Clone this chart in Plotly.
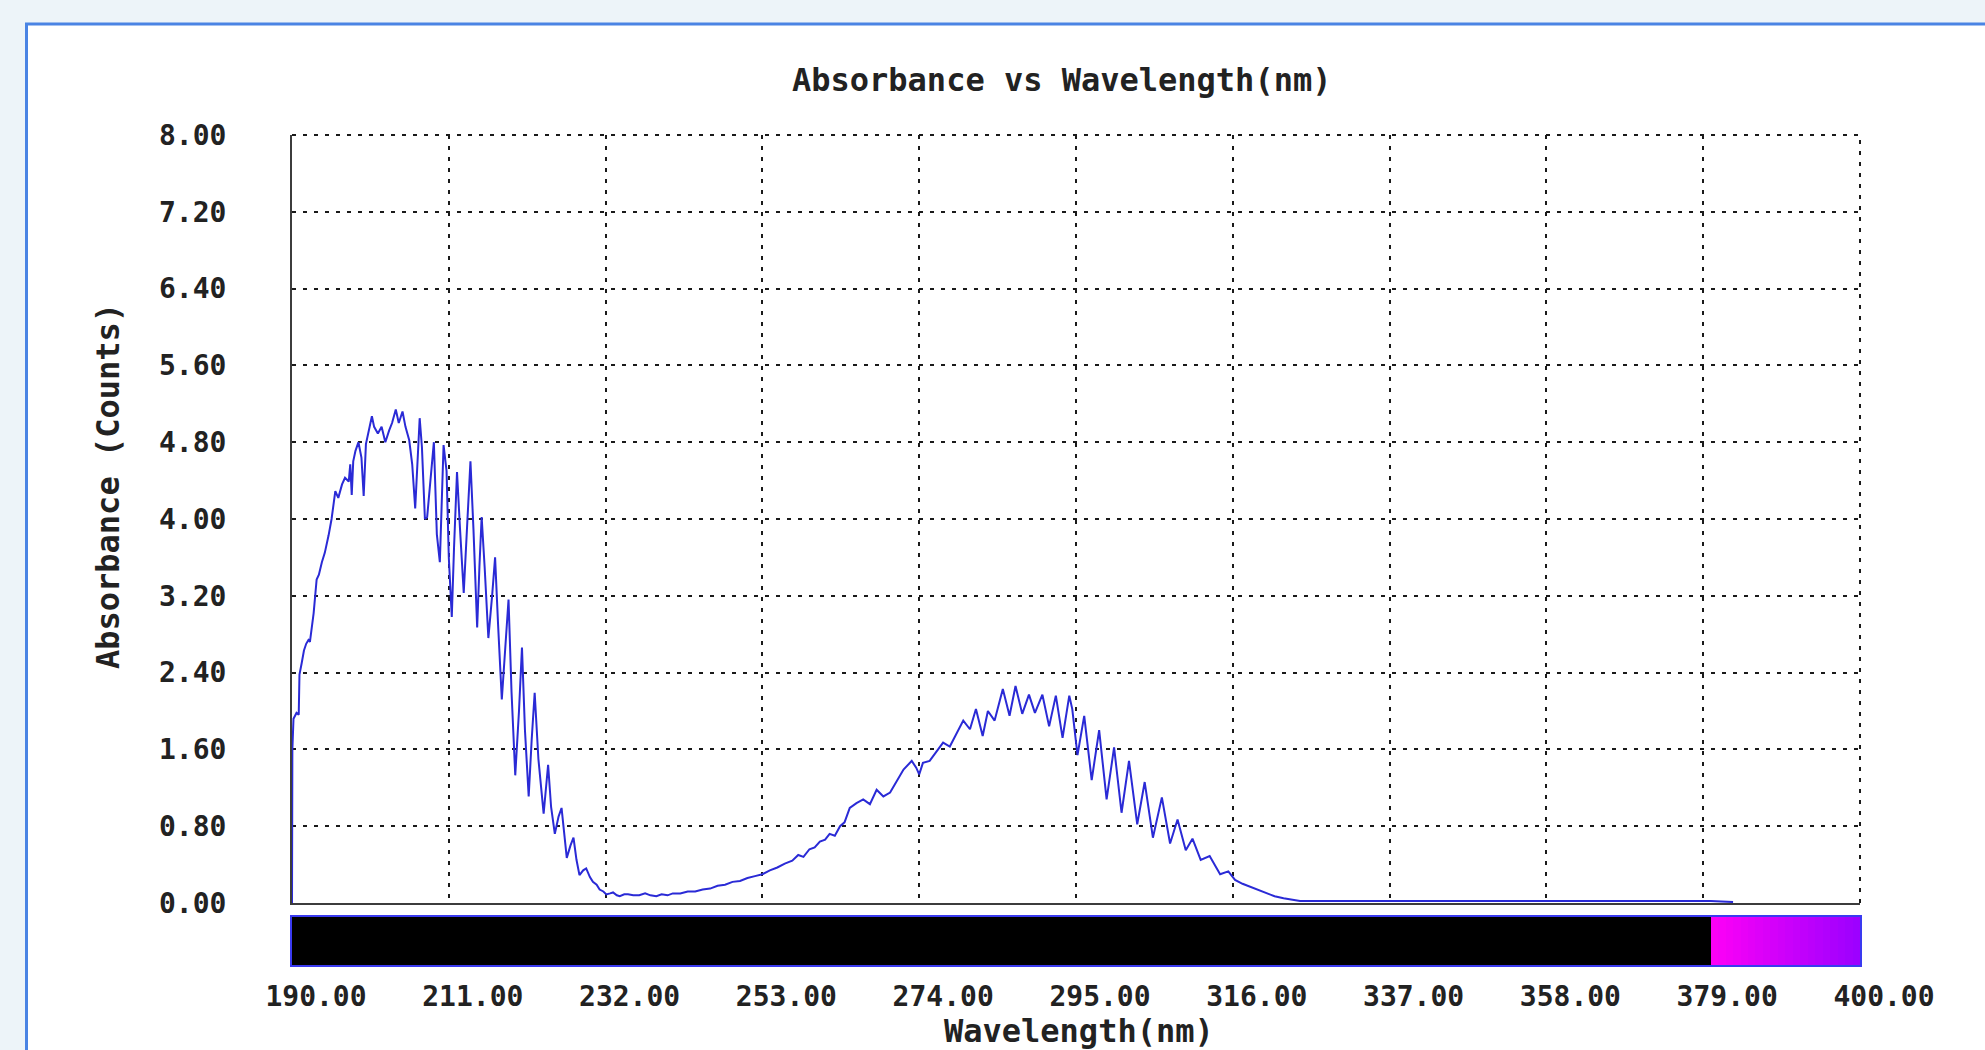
import plotly.graph_objects as go

# ---------------- data ----------------
wavelength = [
    190.0, 190.05, 190.2, 190.6, 190.9, 191.0, 191.3, 191.6, 191.9, 192.2, 192.4, 192.6, 192.9,
    193.3, 193.6, 194.0, 194.4, 194.9, 195.3, 195.8, 196.2, 196.7, 197.1, 197.6, 197.8, 198.0,
    198.2, 198.5, 198.9, 199.3, 199.6, 199.9, 200.2, 200.7, 201.0, 201.5, 202.0, 202.5, 203.0,
    203.4, 203.9, 204.3, 204.8, 205.2, 205.7, 206.1, 206.5, 206.8, 207.1, 207.4, 207.8, 208.1,
    208.6, 209.0, 209.4, 209.8, 210.3, 210.7, 211.0, 211.4, 211.7, 212.1, 212.5, 213.0, 213.5,
    213.9, 214.3, 214.8, 215.1, 215.4, 215.8, 216.3, 216.8, 217.2, 217.6, 218.1, 218.6, 219.0,
    219.4, 219.9, 220.4, 220.8, 221.2, 221.7, 222.1, 222.5, 223.0, 223.7, 224.3, 224.7, 225.2,
    225.7, 226.1, 226.5, 226.8, 227.3, 227.7, 228.1, 228.5, 229.0, 229.4, 229.9, 230.3, 230.8,
    231.2, 231.7, 232.1, 232.6, 233.0, 233.5, 233.9, 234.5, 235.0, 235.7, 236.5, 237.3, 238.0,
    238.8, 239.5, 240.3, 241.0, 242.0, 243.0, 244.0, 245.0, 246.0, 247.0, 248.0, 249.0, 250.0,
    251.0, 252.0, 253.0, 254.0, 255.0, 256.0, 257.0, 257.8, 258.5, 259.3, 260.0, 260.7, 261.4,
    262.0, 262.7, 263.4, 264.0, 264.7, 265.6, 266.5, 267.4, 268.3, 269.2, 270.1, 271.0, 271.9,
    273.0, 273.6, 274.0, 274.5, 275.4, 276.3, 277.2, 278.1, 279.0, 279.9, 280.8, 281.6, 282.5,
    283.2, 284.1, 285.2, 286.1, 286.9, 287.8, 288.7, 289.5, 290.5, 291.4, 292.3, 293.2, 294.1,
    294.5, 295.2, 296.1, 297.1, 298.1, 299.1, 300.1, 301.1, 302.1, 303.2, 304.2, 305.3, 306.5,
    307.6, 308.6, 309.7, 310.6, 311.7, 312.9, 314.3, 315.4, 316.3, 317.3, 318.3, 319.4, 320.5,
    321.6, 322.8, 324.0, 325.0, 330.0, 340.0, 350.0, 360.0, 370.0, 380.0, 383.0,
]
absorbance = [
    0.00, 1.60, 1.92, 1.98, 1.96, 2.38, 2.50, 2.63, 2.70, 2.74, 2.72, 2.82, 3.02,
    3.37, 3.42, 3.55, 3.65, 3.83, 4.00, 4.29, 4.22, 4.36, 4.43, 4.39, 4.57, 4.25,
    4.60, 4.71, 4.80, 4.64, 4.24, 4.78, 4.89, 5.07, 4.96, 4.89, 4.96, 4.80, 4.92,
    5.00, 5.14, 5.00, 5.12, 4.96, 4.82, 4.57, 4.11, 4.64, 5.05, 4.75, 4.00, 4.02,
    4.50, 4.80, 3.84, 3.55, 4.77, 4.50, 3.60, 2.98, 3.70, 4.49, 3.90, 3.23, 4.00,
    4.60, 3.90, 2.87, 3.50, 4.02, 3.50, 2.76, 3.20, 3.60, 2.90, 2.12, 2.70, 3.16,
    2.20, 1.33, 2.00, 2.66, 1.80, 1.11, 1.70, 2.19, 1.50, 0.93, 1.44, 1.00, 0.72,
    0.90, 0.99, 0.70, 0.47, 0.60, 0.68, 0.45, 0.29, 0.34, 0.36, 0.27, 0.22, 0.19,
    0.14, 0.12, 0.09, 0.10, 0.11, 0.08, 0.07, 0.09, 0.09, 0.08, 0.08, 0.10, 0.08,
    0.07, 0.09, 0.08, 0.10, 0.10, 0.12, 0.12, 0.14, 0.15, 0.18, 0.19, 0.22, 0.23,
    0.26, 0.28, 0.30, 0.34, 0.37, 0.41, 0.44, 0.50, 0.48, 0.56, 0.58, 0.64, 0.66,
    0.72, 0.70, 0.80, 0.84, 0.99, 1.04, 1.08, 1.03, 1.18, 1.11, 1.15, 1.27, 1.39,
    1.48, 1.41, 1.34, 1.46, 1.48, 1.57, 1.67, 1.63, 1.77, 1.90, 1.81, 2.02, 1.74,
    2.00, 1.90, 2.23, 1.95, 2.26, 1.97, 2.17, 1.98, 2.17, 1.84, 2.16, 1.72, 2.16,
    2.02, 1.54, 1.95, 1.28, 1.80, 1.08, 1.62, 0.94, 1.48, 0.82, 1.26, 0.68, 1.10,
    0.62, 0.87, 0.55, 0.67, 0.45, 0.49, 0.30, 0.33, 0.24, 0.20, 0.17, 0.13, 0.10,
    0.07, 0.05, 0.03, 0.02, 0.02, 0.02, 0.02, 0.02, 0.02, 0.02, 0.01,
]

x_ticks = [190, 211, 232, 253, 274, 295, 316, 337, 358, 379, 400]
y_ticks = [0.0, 0.8, 1.6, 2.4, 3.2, 4.0, 4.8, 5.6, 6.4, 7.2, 8.0]

# spectrum colour bar: UV part (black) then visible violet band from 380 nm
bar_edges = [190, 380, 381, 382, 383, 384, 385, 386, 387, 388, 389, 390,
             391, 392, 393, 394, 395, 396, 397, 398, 399, 400]
bar_values = [285, 380.5, 381.5, 382.5, 383.5, 384.5, 385.5, 386.5, 387.5, 388.5, 389.5,
              390.5, 391.5, 392.5, 393.5, 394.5, 395.5, 396.5, 397.5, 398.5, 399.5]
visible_start = 380

title_text = "Absorbance vs Wavelength(nm)"
x_title = "Wavelength(nm)"
y_title = "Absorbance (Counts)"

# ---------------- figure ----------------
FONT = "DejaVu Sans Mono"
W, H = 1985, 1050
L, R, T, B = 292, 125, 135, 85
plot_w = W - L - R
plot_h = H - T - B

def px_x(px):
    return (px - L) / plot_w

def px_y(py):
    return (H - B - py) / plot_h

main_bottom = px_y(903)
bar_top = px_y(917)

fig = go.Figure()

fig.add_trace(go.Scatter(
    x=wavelength, y=absorbance, mode="lines",
    line=dict(color="#2a2ad6", width=2),
    xaxis="x", yaxis="y", showlegend=False, hoverinfo="x+y",
))

frac = (visible_start - x_ticks[0]) / (x_ticks[-1] - x_ticks[0])
fig.add_trace(go.Heatmap(
    x=bar_edges, y=[0, 1], z=[bar_values],
    zmin=x_ticks[0], zmax=x_ticks[-1],
    colorscale=[[0, "#000000"], [frac - 1e-6, "#000000"], [frac, "#ff00f6"], [1, "#9a00ff"]],
    showscale=False, xaxis="x2", yaxis="y2", hoverinfo="skip",
))

GRID_COLOR = "#1a1a1a"
GRID_DASH = "4px,7px"
grid_common = dict(showgrid=True, gridcolor=GRID_COLOR, gridwidth=2, griddash=GRID_DASH)
tick_font = dict(family=FONT, size=28, color="#222222", weight="bold")
title_font = dict(family=FONT, size=32, color="#222222", weight="bold")

# dotted frame lines on the top and right edges (grid at the range ends)
edge_lines = [
    dict(type="line", xref="paper", yref="paper", x0=0, x1=1, y0=1, y1=1, layer="above",
         line=dict(color=GRID_COLOR, width=2, dash=GRID_DASH)),
    dict(type="line", xref="paper", yref="paper", x0=1, x1=1, y0=main_bottom, y1=1, layer="above",
         line=dict(color=GRID_COLOR, width=2, dash=GRID_DASH)),
]

fig.update_layout(
    width=W, height=H,
    margin=dict(l=L, r=R, t=T, b=B),
    paper_bgcolor="#edf4f9",
    plot_bgcolor="white",
    xaxis=dict(
        domain=[0, 1], anchor="y", range=[x_ticks[0], x_ticks[-1]], tickvals=x_ticks,
        showticklabels=False, ticks="", zeroline=False,
        showline=True, linecolor="#3c3c3c", linewidth=2,
        **grid_common,
    ),
    yaxis=dict(
        domain=[main_bottom, 1], anchor="x", range=[y_ticks[0], y_ticks[-1]], tickvals=y_ticks,
        tickformat=".2f", ticks="", zeroline=False,
        showline=True, linecolor="#3c3c3c", linewidth=2,
        ticklabelstandoff=58,
        tickfont=tick_font,
        **grid_common,
    ),
    xaxis2=dict(
        domain=[0, 1], anchor="y2", matches="x", range=[x_ticks[0], x_ticks[-1]], tickvals=x_ticks,
        tickformat=".2f", ticks="", showgrid=False, zeroline=False,
        showline=True, mirror=True, linecolor="#3a3af0", linewidth=2,
        ticklabelshift=24, ticklabelstandoff=5,
        tickfont=tick_font,
    ),
    yaxis2=dict(
        domain=[0, bar_top], anchor="x2", range=[0, 1],
        showticklabels=False, ticks="", showgrid=False, zeroline=False,
        showline=True, mirror=True, linecolor="#3a3af0", linewidth=2,
    ),
    shapes=[dict(
        type="rect", xref="paper", yref="paper", layer="below",
        x0=px_x(26.5), x1=1.3, y0=-0.3, y1=px_y(24),
        fillcolor="white", line=dict(color="#4a84e4", width=3),
    )] + edge_lines,
    annotations=[
        dict(text=title_text, xref="paper", yref="paper", x=px_x(1061), y=px_y(80),
             xanchor="center", yanchor="middle", showarrow=False, font=title_font),
        dict(text=x_title, xref="paper", yref="paper", x=px_x(1079), y=px_y(1031),
             xanchor="center", yanchor="middle", showarrow=False, font=title_font),
        dict(text=y_title, xref="paper", yref="paper", x=px_x(108), y=px_y(486),
             xanchor="center", yanchor="middle", showarrow=False, textangle=-90,
             font=title_font),
    ],
)

fig.write_html(
    "out.html",
    config={"displayModeBar": False},
    post_script="document.body.style.margin='0';document.body.style.overflow='hidden';",
)
